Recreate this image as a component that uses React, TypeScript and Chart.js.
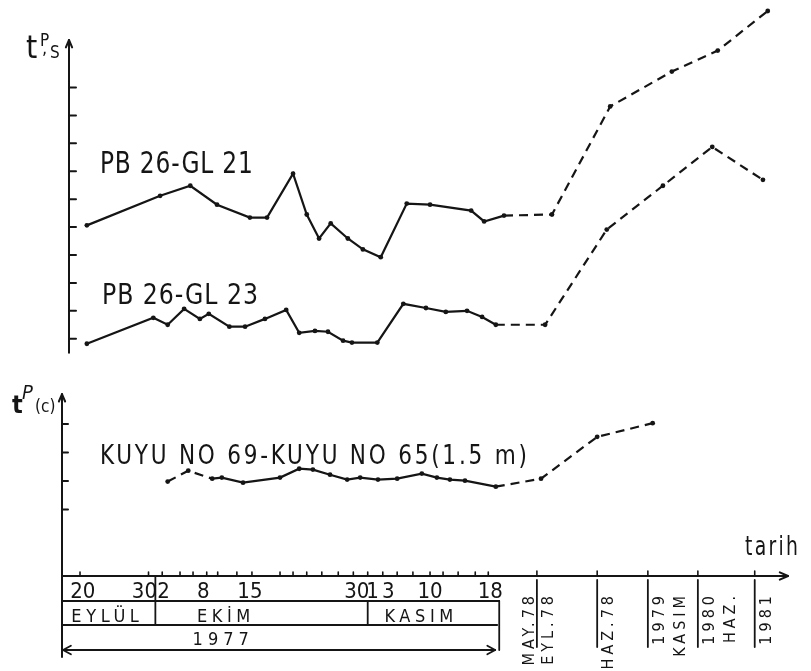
import React, { useEffect, useRef } from 'react';
import { Chart, registerables } from 'chart.js';

Chart.register(...registerables);

// ---------- DATA ----------
// x: days after 20 September 1977 on the drawing's date axis (after November 1977 the axis is compressed / broken)
const gl21Days = [1.0, 11.7, 16.1, 20.0, 24.8, 27.3, 31.1, 33.1, 34.9, 36.6, 39.1, 41.3, 43.9, 47.7, 51.1, 57.1, 59.0, 61.9, 68.9, 77.4, 86.4, 93.1, 100.4];
const gl21Values = [5.06, 6.12, 6.48, 5.80, 5.34, 5.34, 6.91, 5.45, 4.59, 5.13, 4.59, 4.20, 3.92, 5.84, 5.80, 5.59, 5.20, 5.41, 5.45, 9.32, 10.57, 11.32, 12.74];

const gl23Days = [1.0, 10.7, 12.8, 15.2, 17.5, 18.8, 21.8, 24.1, 27.0, 30.1, 32.0, 34.3, 36.2, 38.4, 39.7, 43.4, 47.2, 50.5, 53.4, 56.5, 58.7, 60.7, 67.9, 76.9, 85.1, 92.3, 99.7];
const gl23Values = [0.82, 1.75, 1.50, 2.07, 1.71, 1.89, 1.43, 1.43, 1.71, 2.03, 1.21, 1.28, 1.25, 0.93, 0.86, 0.86, 2.25, 2.10, 1.96, 2.00, 1.78, 1.50, 1.50, 4.91, 6.48, 7.87, 6.69];

const kuyuDays = [12.8, 15.8, 19.3, 20.7, 23.8, 29.2, 32.0, 34.0, 36.5, 39.0, 40.9, 43.5, 46.3, 49.9, 52.1, 54.0, 56.2, 60.7, 67.3, 75.5, 83.6];
const kuyuValues = [1.98, 2.36, 2.08, 2.12, 1.94, 2.12, 2.43, 2.40, 2.22, 2.05, 2.12, 2.05, 2.08, 2.26, 2.12, 2.05, 2.01, 1.80, 2.08, 3.55, 4.03];

// series names and the span (days) drawn as continuous line; outside it the line is dashed
const seriesNames = ['PB 26-GL 21', 'PB 26-GL 23', 'KUYU NO 69-KUYU NO 65(1.5 m)'];
const solidSpans = [[0, 62], [0, 61], [19, 61]];
// label anchors (x in days, y in the series' own units)
const seriesLabelAt = [[2.9, 6.94], [3.2, 2.25], [2.9, 2.6]];

// axes
const psTicks = [1, 2, 3, 4, 5, 6, 7, 8, 9, 10];
const pcTicks = [1, 2, 3, 4];
const measureTickDays = [0, 10, 12, 14.6, 16.5, 18.5, 20.1, 22.9, 25.1, 29.2, 31.1, 33.1, 35.3, 37.7, 39.9, 42.0, 44.2, 46.3, 48.6, 51.1, 53.0, 55.2, 57.7, 59.6];

// date table (1977)
const dayLabels = ['20', '30', '2', '8', '15', '30', '1', '3', '10', '18'];
const dayLabelDays = [0.4, 9.4, 12.2, 18, 24.8, 40.4, 42.7, 45, 51.1, 59.9];
const monthLabels = ['EYLÜL', 'EKİM', 'KASIM'];
const monthLabelDays = [4.0, 21.3, 49.8];
const monthBoundaryDays = [11, 42];
const yearLabel = '1977';
const yearLabelDay = 20.9;
const tableEndDay = 61.2;

// later dates (broken axis)
const breakDays = [66.7, 75.5, 82.9, 90.2, 98.5];
const breakLeftLabels = [['MAY.78'], [], [], [], []];
const breakRightLabels = [['EYL.78'], ['HAZ.78'], ['1979', 'KASIM'], ['1980', 'HAZ.'], ['1981']];

// scale ranges
const X_MIN = -2.63;
const X_MAX = 103.65;
const PS_MIN = -7.5;
const PS_MAX = 12.99;
const PC_MIN = -1.337;
const PC_MAX = 18.75;

const FONT = "'Liberation Sans Narrow', 'DejaVu Sans Condensed', 'Liberation Sans', 'DejaVu Sans', sans-serif";
const INK = '#151515';

type TOpts = { size: number; spacing?: number; align?: CanvasTextAlign; style?: string; width?: number; rotate?: boolean; baseline?: CanvasTextBaseline };

function drawText(ctx: CanvasRenderingContext2D, str: string, x: number, y: number, o: TOpts) {
  const { size, spacing = 0, align = 'left', style = '', width, rotate = false, baseline = 'alphabetic' } = o;
  ctx.save();
  ctx.font = `${style} ${size}px ${FONT}`;
  (ctx as any).letterSpacing = `${spacing}px`;
  ctx.textAlign = align;
  ctx.textBaseline = baseline;
  ctx.fillStyle = INK;
  ctx.translate(x, y);
  if (rotate) ctx.rotate(-Math.PI / 2);
  if (width) {
    const w = ctx.measureText(str).width - spacing;
    if (w > 0) ctx.scale(width / w, 1);
  }
  ctx.fillText(str, 0, 0);
  ctx.restore();
}

function seg(ctx: CanvasRenderingContext2D, x1: number, y1: number, x2: number, y2: number) {
  ctx.beginPath();
  ctx.moveTo(x1, y1);
  ctx.lineTo(x2, y2);
  ctx.stroke();
}

function arrowHead(ctx: CanvasRenderingContext2D, x: number, y: number, angle: number, len = 8, spread = 0.45) {
  ctx.beginPath();
  ctx.moveTo(x - len * Math.cos(angle - spread), y - len * Math.sin(angle - spread));
  ctx.lineTo(x, y);
  ctx.lineTo(x - len * Math.cos(angle + spread), y - len * Math.sin(angle + spread));
  ctx.stroke();
}

const decorPlugin = {
  id: 'schematicDecor',
  beforeDraw(chart: any) {
    const { ctx, width, height } = chart;
    ctx.save();
    ctx.fillStyle = '#ffffff';
    ctx.fillRect(0, 0, width, height);
    ctx.restore();
  },
  afterDraw(chart: any) {
    const { ctx, chartArea: a, scales } = chart;
    const xs = scales.x;
    const ys = scales.yS;
    const yc = scales.yC;
    const X = (d: number) => xs.getPixelForValue(d);
    ctx.save();
    ctx.strokeStyle = INK;
    ctx.lineWidth = 2;
    ctx.lineCap = 'round';
    ctx.lineJoin = 'round';

    // ---- upper y axis (tP,s)
    const ux = a.left + 7;
    const uTop = ys.getPixelForValue(11.7);
    seg(ctx, ux, ys.getPixelForValue(0.5), ux, uTop);
    arrowHead(ctx, ux, uTop, -Math.PI / 2, 8, 0.4);
    psTicks.forEach((v) => {
      const p = ys.getPixelForValue(v);
      seg(ctx, ux, p, ux + 7, p);
    });

    // ---- lower y axis (tP(c)), continues as left edge of the table
    const lx = a.left;
    const lTop = yc.getPixelForValue(5.05);
    seg(ctx, lx, a.bottom + 81, lx, lTop);
    arrowHead(ctx, lx, lTop, -Math.PI / 2, 8, 0.4);
    pcTicks.forEach((v) => {
      const p = yc.getPixelForValue(v);
      seg(ctx, lx, p, lx + 6, p);
    });

    // ---- x axis (tarih)
    const xb = a.bottom;
    seg(ctx, a.left, xb, a.right - 2, xb);
    arrowHead(ctx, a.right - 2, xb, 0, 9, 0.42);
    ctx.lineWidth = 1.6;
    measureTickDays.forEach((d) => seg(ctx, X(d), xb, X(d), xb - 4));
    breakDays.forEach((d) => seg(ctx, X(d), xb, X(d), xb - 5));

    // ---- 1977 date table
    const r1 = xb + 25;
    const r2 = xb + 49;
    const r3 = xb + 74;
    const tEnd = X(tableEndDay);
    ctx.lineWidth = 1.8;
    seg(ctx, a.left, r1, tEnd, r1);
    seg(ctx, a.left, r2, tEnd - 2, r2);
    seg(ctx, tEnd, r1, tEnd, r3);
    monthBoundaryDays.forEach((d, i) => seg(ctx, X(d), i === 0 ? xb : r1, X(d), r2));
    seg(ctx, a.left, r3, tEnd - 4, r3);
    arrowHead(ctx, a.left + 1, r3, Math.PI, 9, 0.5);
    arrowHead(ctx, tEnd - 4, r3, 0, 9, 0.5);

    // ---- later-date separators
    breakDays.forEach((d) => seg(ctx, X(d), xb + 4, X(d), xb + 71));
    ctx.restore();

    // ---- texts
    dayLabels.forEach((t, i) => drawText(ctx, t, X(dayLabelDays[i]), xb + 22, { size: 22, align: 'center' }));
    monthLabels.forEach((t, i) => drawText(ctx, t, X(monthLabelDays[i]), xb + 46, { size: 18, spacing: 4.6, align: 'center' }));
    drawText(ctx, yearLabel, X(yearLabelDay), xb + 69, { size: 18, spacing: 5, align: 'center' });

    breakDays.forEach((d, i) => {
      const px = X(d);
      breakLeftLabels[i].forEach((t, j) =>
        drawText(ctx, t, px - 7 - j * 20, xb + 16, { size: 16, spacing: 4, align: 'right', rotate: true, baseline: 'middle' }));
      breakRightLabels[i].forEach((t, j) =>
        drawText(ctx, t, px + 12 + j * 21, xb + 16, { size: 16, spacing: 4, align: 'right', rotate: true, baseline: 'middle' }));
    });

    // axis titles
    drawText(ctx, 't', ux - 43, uTop + 18, { size: 32 });
    drawText(ctx, 'P', ux - 29, uTop + 6, { size: 17 });
    drawText(ctx, ',', ux - 27, uTop + 14, { size: 18 });
    drawText(ctx, 'S', ux - 19, uTop + 18, { size: 17 });

    drawText(ctx, 't', lx - 50, lTop + 19, { size: 25, style: 'bold' });
    drawText(ctx, 'P', lx - 40, lTop + 5, { size: 20, style: 'italic' });
    drawText(ctx, '(c)', lx - 27, lTop + 18, { size: 17 });

    drawText(ctx, 'tarih', a.right - 45, xb - 21, { size: 27, spacing: 3, width: 53 });

    // series names
    const sAxes = [ys, ys, yc];
    const sWidths = [153, 156, 427];
    const sSizes = [31, 28, 26];
    seriesNames.forEach((n, i) => {
      const [dx, dy] = seriesLabelAt[i];
      drawText(ctx, n, X(dx), sAxes[i].getPixelForValue(dy), { size: sSizes[i], spacing: i === 2 ? 3 : 1, width: sWidths[i] });
    });
  },
};

function makeDataset(i: number, days: number[], values: number[], axis: string) {
  const [s0, s1] = solidSpans[i];
  return {
    label: seriesNames[i],
    data: days.map((d, k) => ({ x: d, y: values[k] })),
    yAxisID: axis,
    borderColor: INK,
    borderWidth: 2.2,
    backgroundColor: INK,
    pointBackgroundColor: INK,
    pointBorderWidth: 0,
    pointRadius: 2.4,
    tension: 0,
    fill: false,
    segment: {
      borderDash: (c: any) => (c.p0.parsed.x < s0 - 0.01 || c.p1.parsed.x > s1 ? [9, 6] : undefined),
    },
  };
}

export default function App() {
  const ref = useRef<HTMLCanvasElement>(null);
  useEffect(() => {
    if (!ref.current) return;
    const chart = new Chart(ref.current, {
      type: 'line',
      data: {
        datasets: [
          makeDataset(0, gl21Days, gl21Values, 'yS'),
          makeDataset(1, gl23Days, gl23Values, 'yS'),
          makeDataset(2, kuyuDays, kuyuValues, 'yC'),
        ] as any,
      },
      options: {
        responsive: false,
        animation: false,
        devicePixelRatio: 1,
        layout: { padding: { left: 62, right: 21, top: 0, bottom: 95 } },
        scales: {
          x: { type: 'linear', min: X_MIN, max: X_MAX, display: false },
          yS: { type: 'linear', min: PS_MIN, max: PS_MAX, display: false },
          yC: { type: 'linear', min: PC_MIN, max: PC_MAX, display: false },
        },
        plugins: { legend: { display: false }, tooltip: { enabled: false } },
        events: [],
      } as any,
      plugins: [decorPlugin],
    });
    return () => chart.destroy();
  }, []);
  return (
    <div style={{ position: 'fixed', left: 0, top: 0, width: 811, height: 671, background: '#fff' }}>
      <canvas ref={ref} width={811} height={671} style={{ display: 'block', width: 811, height: 671 }} />
    </div>
  );
}
